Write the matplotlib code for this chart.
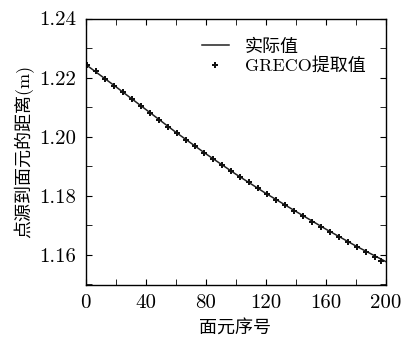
import matplotlib
matplotlib.use("Agg")
from matplotlib import pyplot as plt
from matplotlib.ticker import MultipleLocator

plt.rcParams['font.family'] = ['cmr10', 'Noto Sans CJK SC']
plt.rcParams['axes.formatter.use_mathtext'] = True

# actual distance (line)
line_x = [0, 20, 40, 60, 80, 100, 120, 140, 160, 180, 200]
line_y = [1.2245, 1.2170, 1.2093, 1.2016, 1.1943, 1.1874, 1.1809, 1.1748,
          1.1688, 1.1631, 1.1578]

# GRECO extracted values (markers)
greco_x = [1, 7, 13, 19, 25, 31, 37, 43, 49, 55, 61, 67, 73, 79, 85, 91, 97,
           103, 109, 115, 121, 127, 133, 139, 145, 151, 157, 163, 169, 175,
           181, 187, 193, 197]
greco_y = [1.2242, 1.2221, 1.2194, 1.2171, 1.2151, 1.2127, 1.2104, 1.2079,
           1.2056, 1.2033, 1.2011, 1.1989, 1.1968, 1.1946, 1.1923, 1.1903,
           1.1883, 1.1864, 1.1846, 1.1825, 1.1806, 1.1787, 1.1768, 1.1749,
           1.1731, 1.1713, 1.1694, 1.1677, 1.1660, 1.1643, 1.1626, 1.1609,
           1.1593, 1.1580]

xticks = [0, 40, 80, 120, 160, 200]
yticks = [1.16, 1.18, 1.20, 1.22, 1.24]

fig = plt.figure(figsize=(4.05, 3.38), dpi=100)
ax = fig.add_axes([85.5/405, 1 - 284.5/338, 300/405, 266/338])

ax.plot(line_x, line_y, color='#222222', linewidth=1.1, label='实际值')
ax.plot(greco_x, greco_y, linestyle='none', marker='P', markersize=5,
        color='#111111', markeredgewidth=0, label='GRECO提取值')

ax.set_xlim(0, 200)
ax.set_ylim(1.15, 1.24)
ax.set_xticks(xticks)
ax.set_yticks(yticks)
ax.set_xticklabels([str(t) for t in xticks])
ax.set_yticklabels([f'{t:.2f}' for t in yticks])
ax.xaxis.set_minor_locator(MultipleLocator(20))
ax.yaxis.set_minor_locator(MultipleLocator(0.01))
ax.tick_params(which='both', direction='in', top=True, right=True,
               labelsize=15, pad=7)
ax.tick_params(which='major', length=4.5)
ax.tick_params(which='minor', length=4.5)
for s in ax.spines.values():
    s.set_linewidth(1.0)

ax.set_xlabel('面元序号', fontsize=13)
ax.set_ylabel('点源到面元的距离(m)', fontsize=13)
ax.xaxis.set_label_coords(0.5, -0.128)
ax.yaxis.set_label_coords(-0.17, 0.5)

ax.legend(loc='upper right', frameon=False, fontsize=13, handlelength=1.5,
          handletextpad=0.9, borderaxespad=0.7, labelspacing=0.15)

fig.savefig('out.png', dpi=100)
